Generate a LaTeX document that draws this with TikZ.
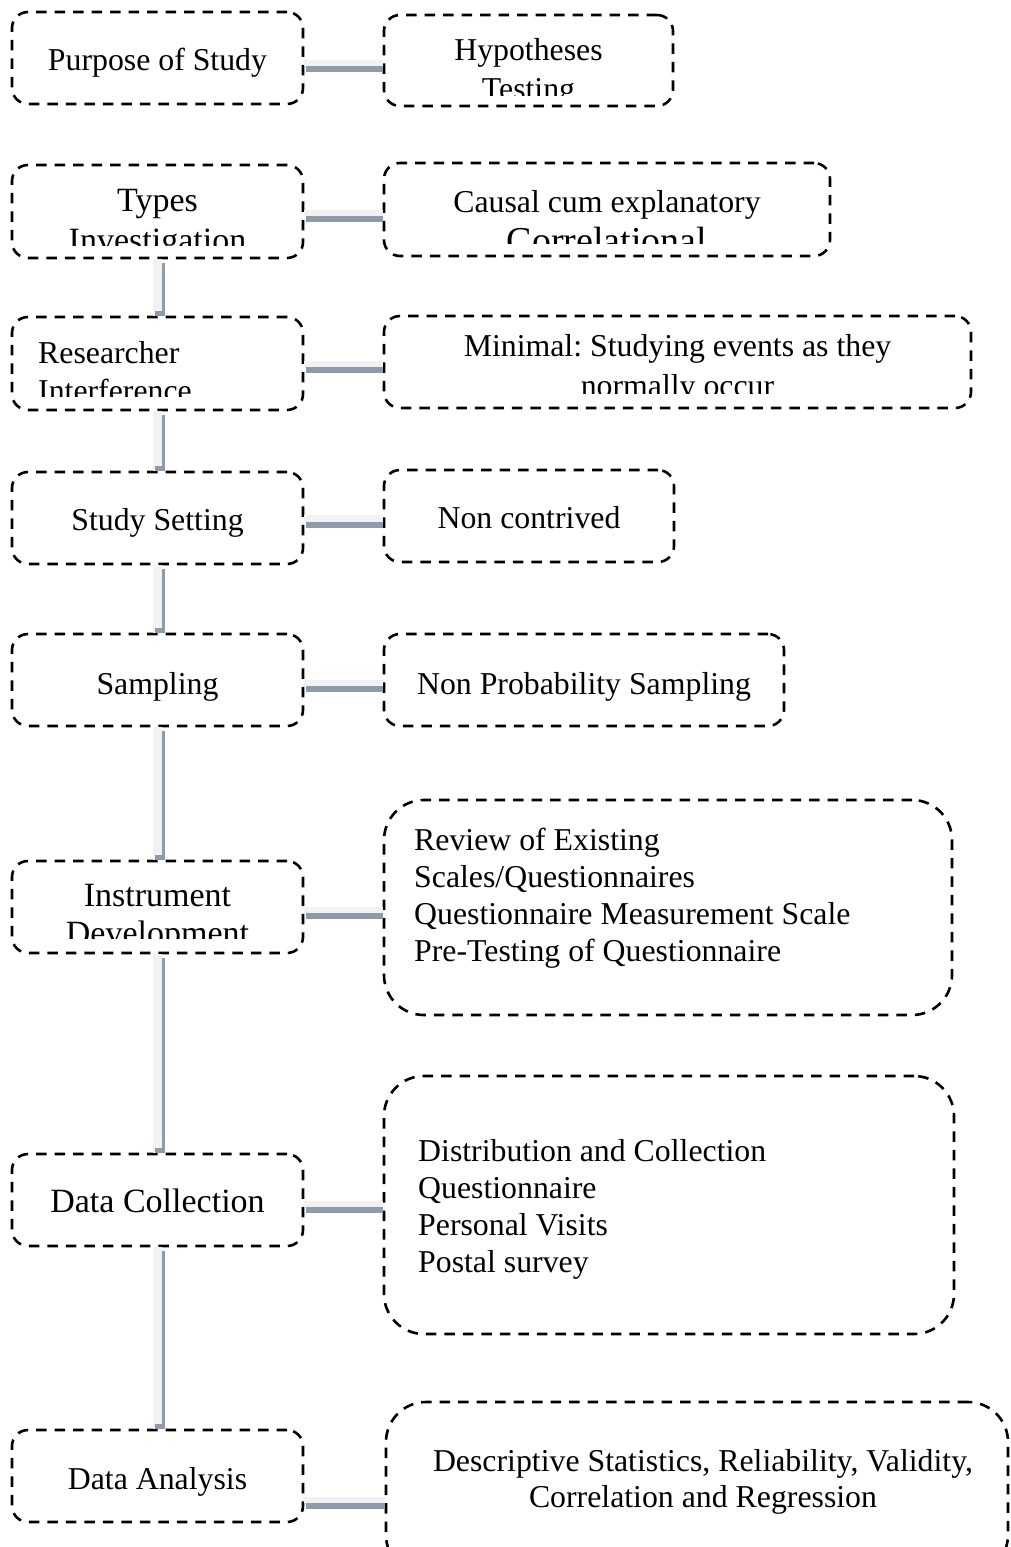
\documentclass[tikz,border=0pt]{standalone}
\usepackage{fontspec}
\setmainfont{Liberation Serif}
\frenchspacing
\definecolor{bandLite}{RGB}{242,242,242}
\definecolor{bandDark}{RGB}{142,155,171}
\tikzset{
  stage/.style={draw=black, line width=2.6pt, dash pattern=on 10.5pt off 8pt,
    rounded corners=16pt, inner sep=0pt, minimum height=92pt},
  leftstage/.style={stage, minimum width=291pt},
  bigstage/.style={stage, rounded corners=40pt},
  % multi-line labels are placed by the baseline of their last line
  label/.style={inner sep=0pt, anchor=base, align=center,
    font=\fontsize{31.8}{38}\selectfont},
  biglabel/.style={label, font=\fontsize{34}{40}\selectfont},
  listlabel/.style={inner sep=0pt, anchor=base west, align=left,
    font=\fontsize{31.8}{36.7}\selectfont},
}
% horizontal link: light band over a darker band, seam at y = #3
\newcommand\hband[3]{%
  \fill[bandLite] (#1.east |- 0,{#3-6.5}) rectangle (#2.west |- 0,{#3});
  \fill[bandDark] ([xshift=1.5pt]#1.east |- 0,{#3}) rectangle (#2.west |- 0,{#3+6});
}
% vertical link between two stages of the left column
\newcommand\vband[2]{%
  \fill[bandLite] (153,0 |- #1.south) rectangle (162,0 |- #2.north);
  \fill[bandDark] (162,0 |- #1.south) ++(0,4) rectangle (165,0 |- #2.north);
  \fill[bandDark] (155,0 |- #2.north) ++(0,-5) rectangle (165,0 |- #2.north);
}
\begin{document}
\begin{tikzpicture}[x=1pt,y=-1pt]
\useasboundingbox (0,0) rectangle (1011,1547);
\clip (0,0) rectangle (1011,1547);
\fill[white] (0,0) rectangle (1011,1547);

% ---- stage frames ----
\node[leftstage] (purpose)  at (157.5,58)   {};
\node[stage, minimum width=289pt, minimum height=91pt] (hypo) at (528.5,60.5) {};
\node[leftstage, minimum height=93pt] (types) at (157.5,211.5) {};
\node[stage, minimum width=446pt, minimum height=93pt] (causal) at (607,209.5) {};
\node[leftstage, minimum height=93pt] (interf) at (157.5,363.5) {};
\node[stage, minimum width=587pt] (minimal) at (677.5,362) {};
\node[leftstage] (setting)  at (157.5,518)  {};
\node[stage, minimum width=290pt] (noncon) at (529,516) {};
\node[leftstage] (sampling) at (157.5,680)  {};
\node[stage, minimum width=400pt] (nonprob) at (584,680) {};
\node[leftstage] (instr)    at (157.5,907)  {};
\node[bigstage, minimum width=568pt, minimum height=215pt] (review) at (668,907.5) {};
\node[leftstage] (collect)  at (157.5,1200) {};
\node[bigstage, minimum width=570pt, minimum height=258pt] (distrib) at (669,1205) {};
\node[leftstage] (analysis) at (157.5,1476) {};
\node[bigstage, minimum width=622pt, minimum height=173pt] (descr) at (697,1488.5) {};

% ---- labels ----
\node[label] (purposeT) at (157.5,70) {Purpose of Study};
\begin{scope}
  \clip (384,15) rectangle (673,95);
  \node[label, font=\fontsize{31.8}{39}\selectfont] (hypoT) at (528.5,99) {Hypotheses\\Testing};
\end{scope}
\begin{scope}
  \clip (12,165) rectangle (303,245);
  \node[biglabel, font=\fontsize{34}{40}\selectfont] (typesT) at (157.5,251) {Types\\Investigation};
\end{scope}
\begin{scope}
  \clip (384,163) rectangle (830,243);
  \node[label] (causalT) at (607,253) {Causal cum explanatory\\[3pt]\fontsize{38}{38}\selectfont Correlational};
\end{scope}
\begin{scope}
  \clip (12,317) rectangle (303,396);
  \node[listlabel, font=\fontsize{31.8}{38}\selectfont] (interfT) at (38,401) {Researcher\\Interference};
\end{scope}
\begin{scope}
  \clip (384,316) rectangle (971,393);
  \node[label, font=\fontsize{31.8}{40}\selectfont] (minimalT) at (677.5,396) {Minimal: Studying events as they\\normally occur};
\end{scope}
\node[label] (settingT)  at (157.5,530) {Study Setting};
\node[label] (nonconT)   at (529,528)   {Non contrived};
\node[label] (samplingT) at (157.5,694) {Sampling};
\node[label] (nonprobT)  at (584,694)   {Non Probability Sampling};
\begin{scope}
  \clip (12,861) rectangle (303,938);
  \node[biglabel, font=\fontsize{34}{38}\selectfont] (instrT) at (157.5,944) {Instrument\\Development};
\end{scope}
\node[listlabel] (reviewT) at (414,961) {Review of Existing\\Scales/Questionnaires\\Questionnaire Measurement Scale\\Pre-Testing of Questionnaire};
\node[biglabel] (collectT) at (157.5,1212.5) {Data Collection};
\node[listlabel] (distribT) at (418,1272) {Distribution and Collection\\Questionnaire\\Personal Visits\\Postal survey};
\node[label] (analysisT) at (157.5,1489) {Data Analysis};
\node[label, font=\fontsize{31.8}{36}\selectfont] (descrT) at (703,1507) {Descriptive Statistics, Reliability, Validity,\\Correlation and Regression};

% ---- links ----
\hband{purpose}{hypo}{66}
\hband{types}{causal}{216}
\hband{interf}{minimal}{367}
\hband{setting}{noncon}{521.5}
\hband{sampling}{nonprob}{686}
\hband{instr}{review}{913}
\hband{collect}{distrib}{1207}
\hband{analysis}{descr}{1503}

\vband{types}{interf}
\vband{interf}{setting}
\vband{setting}{sampling}
\vband{sampling}{instr}
\vband{instr}{collect}
\vband{collect}{analysis}
\end{tikzpicture}
\end{document}
